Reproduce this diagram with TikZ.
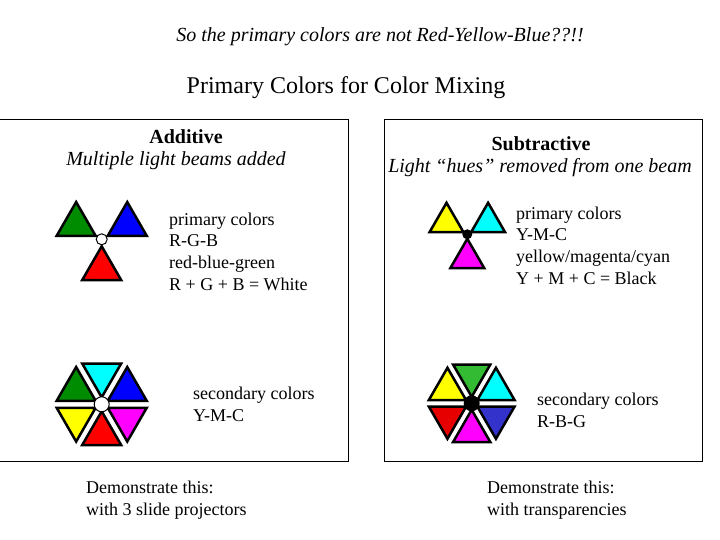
\documentclass[tikz,border=0pt]{standalone}
\usepackage{fontspec}
\setmainfont{Liberation Serif}
\usepackage{tikz}
\usetikzlibrary{calc}

\definecolor{lgreen}{RGB}{0,140,0}
\definecolor{lblue}{RGB}{0,0,255}
\definecolor{lred}{RGB}{255,0,0}
\definecolor{lcyan}{RGB}{0,255,255}
\definecolor{lmagenta}{RGB}{255,0,255}
\definecolor{lyellow}{RGB}{255,255,0}
\definecolor{sgreen}{RGB}{51,187,51}
\definecolor{sblue}{RGB}{51,51,204}
\definecolor{sred}{RGB}{230,0,0}

\begin{document}
\begin{tikzpicture}[x=1pt,y=1pt,
	tri/.style={draw=black, line width=2.5pt, line join=miter},
	body/.style={font=\fontsize{18}{21.7}\selectfont, align=left, inner sep=0pt, anchor=west},
	head/.style={font=\fontsize{20}{24}\selectfont\bfseries, inner sep=0pt},
	sub/.style={font=\fontsize{20}{24}\selectfont\itshape, inner sep=0pt}]

% parameters %{{{2

	\def\dist{29.5pt}
	\def\rad{22.5pt}
	\def\sdist{24pt}
	\def\srad{19.5pt}
	\def\tdist{28pt}
	\def\trad{21.5pt}

% frame %{{{2

	\useasboundingbox (0,0) rectangle (720,540);

% coordinates %{{{2

	\coordinate (A1) at (101.7,300.7);
	\coordinate (A2) at (101.7,135.7);
	\coordinate (S1) at (467.3,305.7);
	\coordinate (S2) at (471.7,136.7);

% boxes %{{{2

	\draw[line width=1pt] (-5,420) rectangle (348,78);
	\draw[line width=1pt] (384,420) rectangle (702,78);

% titles %{{{2

	\node[font=\fontsize{20}{24}\selectfont\itshape] (question) at (380,503)
		{So the primary colors are not Red-Yellow-Blue??!!};
	\node[font=\fontsize{24}{28}\selectfont] (title) at (346,452.5)
		{Primary Colors for Color Mixing};

	\node[head] (addhead) at (186,403) {Additive};
	\node[sub] (addsub) at (176,379) {Multiple light beams added};
	\node[head] (subhead) at (541,396) {Subtractive};
	\node[sub] (subsub) at (540,372) {Light “hues” removed from one beam};

% additive triangles %{{{2

	\foreach \k/\col in {2/lgreen,0/lblue,4/lred} {
		\coordinate (T) at ($(A1)+({60*\k+30}:\dist)$);
		\filldraw[tri, fill=\col] ($(T)+({60*\k+90}:\rad)$)
			-- ($(T)+({60*\k+210}:\rad)$) -- ($(T)+({60*\k+330}:\rad)$) -- cycle;
	}
	\filldraw[fill=white, line width=1pt] (A1) circle (5.5pt);

	\foreach \k/\col in {2/lgreen,1/lcyan,0/lblue,3/lyellow,4/lred,5/lmagenta} {
		\coordinate (T) at ($(A2)+({60*\k+30}:\dist)$);
		\filldraw[tri, fill=\col] ($(T)+({60*\k+90}:\rad)$)
			-- ($(T)+({60*\k+210}:\rad)$) -- ($(T)+({60*\k+330}:\rad)$) -- cycle;
	}
	\filldraw[fill=white, line width=1pt] (A2) circle (7.5pt);

% subtractive triangles %{{{2

	\foreach \k/\col in {2/lyellow,0/lcyan,4/lmagenta} {
		\coordinate (T) at ($(S1)+({60*\k+30}:\sdist)$);
		\filldraw[tri, fill=\col] ($(T)+({60*\k+90}:\srad)$)
			-- ($(T)+({60*\k+210}:\srad)$) -- ($(T)+({60*\k+330}:\srad)$) -- cycle;
	}
	\fill (S1) circle (5pt);

	\foreach \k/\col in {1/sgreen,2/lyellow,0/lcyan,3/sred,4/lmagenta,5/sblue} {
		\coordinate (T) at ($(S2)+({60*\k+30}:\tdist)$);
		\filldraw[tri, fill=\col] ($(T)+({60*\k+90}:\trad)$)
			-- ($(T)+({60*\k+210}:\trad)$) -- ($(T)+({60*\k+330}:\trad)$) -- cycle;
	}
	\fill (S2) circle (8pt);

% texts %{{{2

	\node[body] (addprim) at (169,288.5)
		{primary colors\\R-G-B\\red-blue-green\\R + G + B = White};
	\node[body] (addsec) at (193,136) {secondary colors\\Y-M-C};
	\node[body] (addshow) at (86,40) {Demonstrate this:\\with 3 slide projectors};

	\node[body] (subprim) at (516,294.5)
		{primary colors\\Y-M-C\\yellow/magenta/cyan\\Y + M + C = Black};
	\node[body] (subsec) at (537,130) {secondary colors\\R-B-G};
	\node[body] (subshow) at (487,40) {Demonstrate this:\\with transparencies};

% closing %{{{2

\end{tikzpicture}
\end{document}
